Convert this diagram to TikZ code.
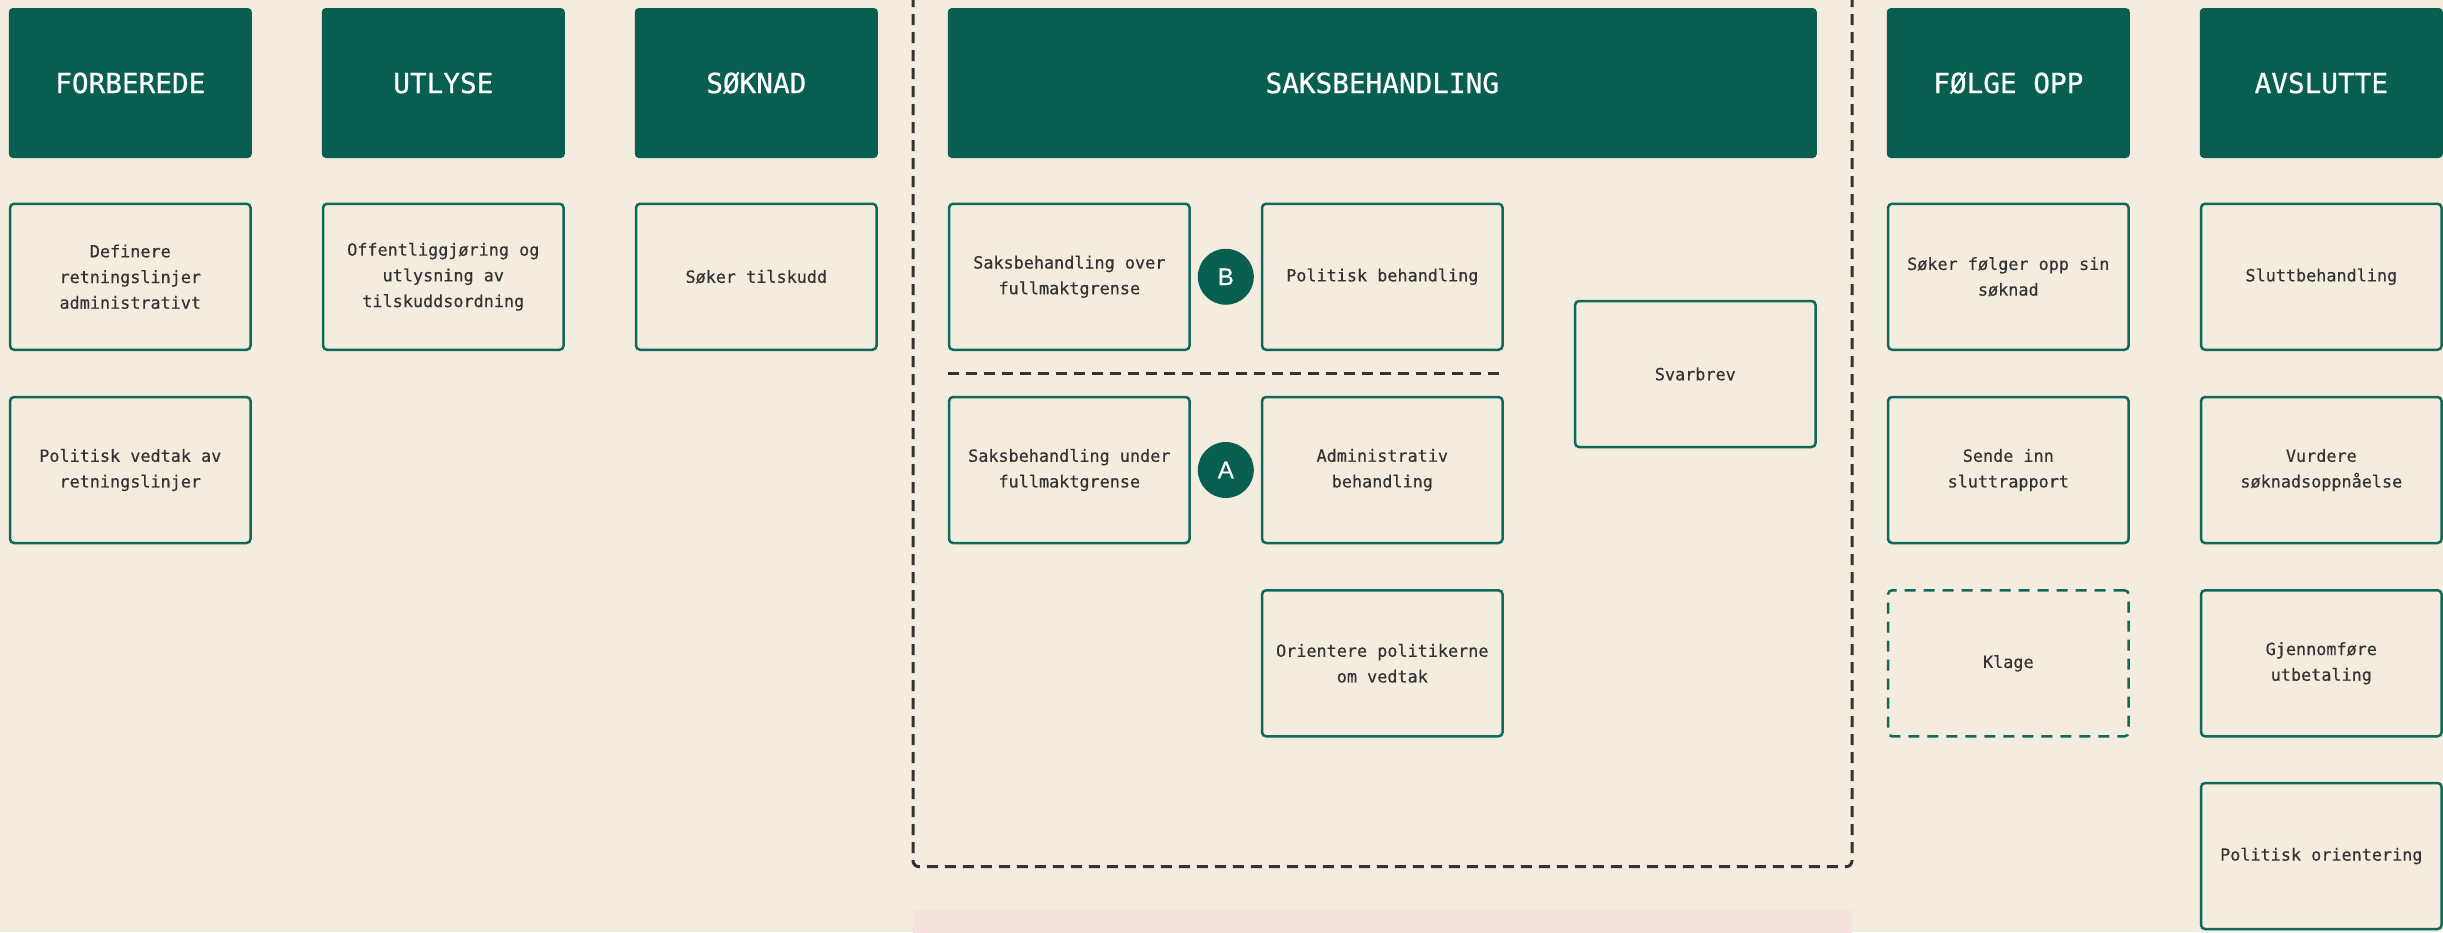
\documentclass[tikz,border=0pt]{standalone}
\usepackage{fontspec}
\newfontfamily\monofont[FakeBold=0.4]{DejaVu Sans Mono}
\newfontfamily\hdrmono[FakeBold=0.6]{DejaVu Sans Mono}
\newfontfamily\circfont[FakeBold=0.5]{Liberation Sans}
\definecolor{bg}{HTML}{F4ECDF}
\definecolor{hdrgreen}{HTML}{085F4F}
\definecolor{boxgreen}{HTML}{10695A}
\definecolor{txt}{HTML}{333333}
\definecolor{framec}{HTML}{333333}
\definecolor{pinkc}{HTML}{F6E3DF}
\tikzset{
  hdr/.style={fill=hdrgreen, rounded corners=4pt, minimum width=243pt, minimum height=150pt,
    text=white, font=\hdrmono\fontsize{27.7}{30}\selectfont, inner sep=0pt},
  card/.style={draw=boxgreen, line width=2.5pt, rounded corners=4pt, fill=bg,
    minimum width=240.5pt, minimum height=146pt, align=center, text=txt,
    font=\monofont\fontsize{16.8}{25.7}\selectfont, inner sep=0pt},
  dashcard/.style={card, dash pattern=on 11pt off 8pt},
  badge/.style={circle, fill=hdrgreen, minimum size=56pt, inner sep=0pt, text=white,
    font=\circfont\fontsize{24}{24}\selectfont},
  frameline/.style={draw=framec, line width=3pt, dash pattern=on 11pt off 7pt},
}
\begin{document}
\begin{tikzpicture}[x=1pt, y=-1pt]
\useasboundingbox (0,0) rectangle (2443,932);
\fill[bg] (0,0) rectangle (2443,932);
\clip (0,0) rectangle (2443,932);
% pink strip and big dashed frame
\fill[pinkc] (913,910) rectangle (1852,960);
\draw[frameline, rounded corners=6pt] (913,-40) -- (913,866.7) -- (1852,866.7) -- (1852,-40);
% headers
\node[hdr] (h1) at (130.3,83) {FORBEREDE};
\node[hdr] (h2) at (443.3,83) {UTLYSE};
\node[hdr] (h3) at (756.3,83) {SØKNAD};
\node[hdr, minimum width=869pt] (h4) at (1382.3,83) {SAKSBEHANDLING};
\node[hdr] (h5) at (2008.3,83) {FØLGE OPP};
\node[hdr] (h6) at (2321.3,83) {AVSLUTTE};
% column 1
\node[card] (a1) at (130.3,276.75) {Definere\\retningslinjer\\administrativt};
\node[card] (a2) at (130.3,470) {Politisk vedtak av\\retningslinjer};
% column 2
\node[card] (b1) at (443.3,276.75) {Offentliggjøring og\\utlysning av\\tilskuddsordning};
% column 3
\node[card] (c1) at (756.3,276.75) {Søker tilskudd};
% saksbehandling
\node[card] (s1) at (1069.3,276.75) {Saksbehandling over\\fullmaktgrense};
\node[card] (s2) at (1382.3,276.75) {Politisk behandling};
\node[card] (s3) at (1069.3,470) {Saksbehandling under\\fullmaktgrense};
\node[card] (s4) at (1382.3,470) {Administrativ\\behandling};
\node[card] (s5) at (1382.3,663.3) {Orientere politikerne\\om vedtak};
\node[card] (s6) at (1695.3,374) {Svarbrev};
\node[badge] (bB) at (1225.8,276.75) {B};
\node[badge] (bA) at (1225.8,470) {A};
\draw[frameline] (947.5,373.3) -- (1504,373.3);
% følge opp
\node[card] (f1) at (2008.3,276.75) {Søker følger opp sin\\søknad};
\node[card] (f2) at (2008.3,470) {Sende inn\\sluttrapport};
\node[dashcard] (f3) at (2008.3,663.3) {Klage};
% avslutte
\node[card] (v1) at (2321.3,276.75) {Sluttbehandling};
\node[card] (v2) at (2321.3,470) {Vurdere\\søknadsoppnåelse};
\node[card] (v3) at (2321.3,663.3) {Gjennomføre\\utbetaling};
\node[card] (v4) at (2321.3,856) {Politisk orientering};
\end{tikzpicture}
\end{document}
